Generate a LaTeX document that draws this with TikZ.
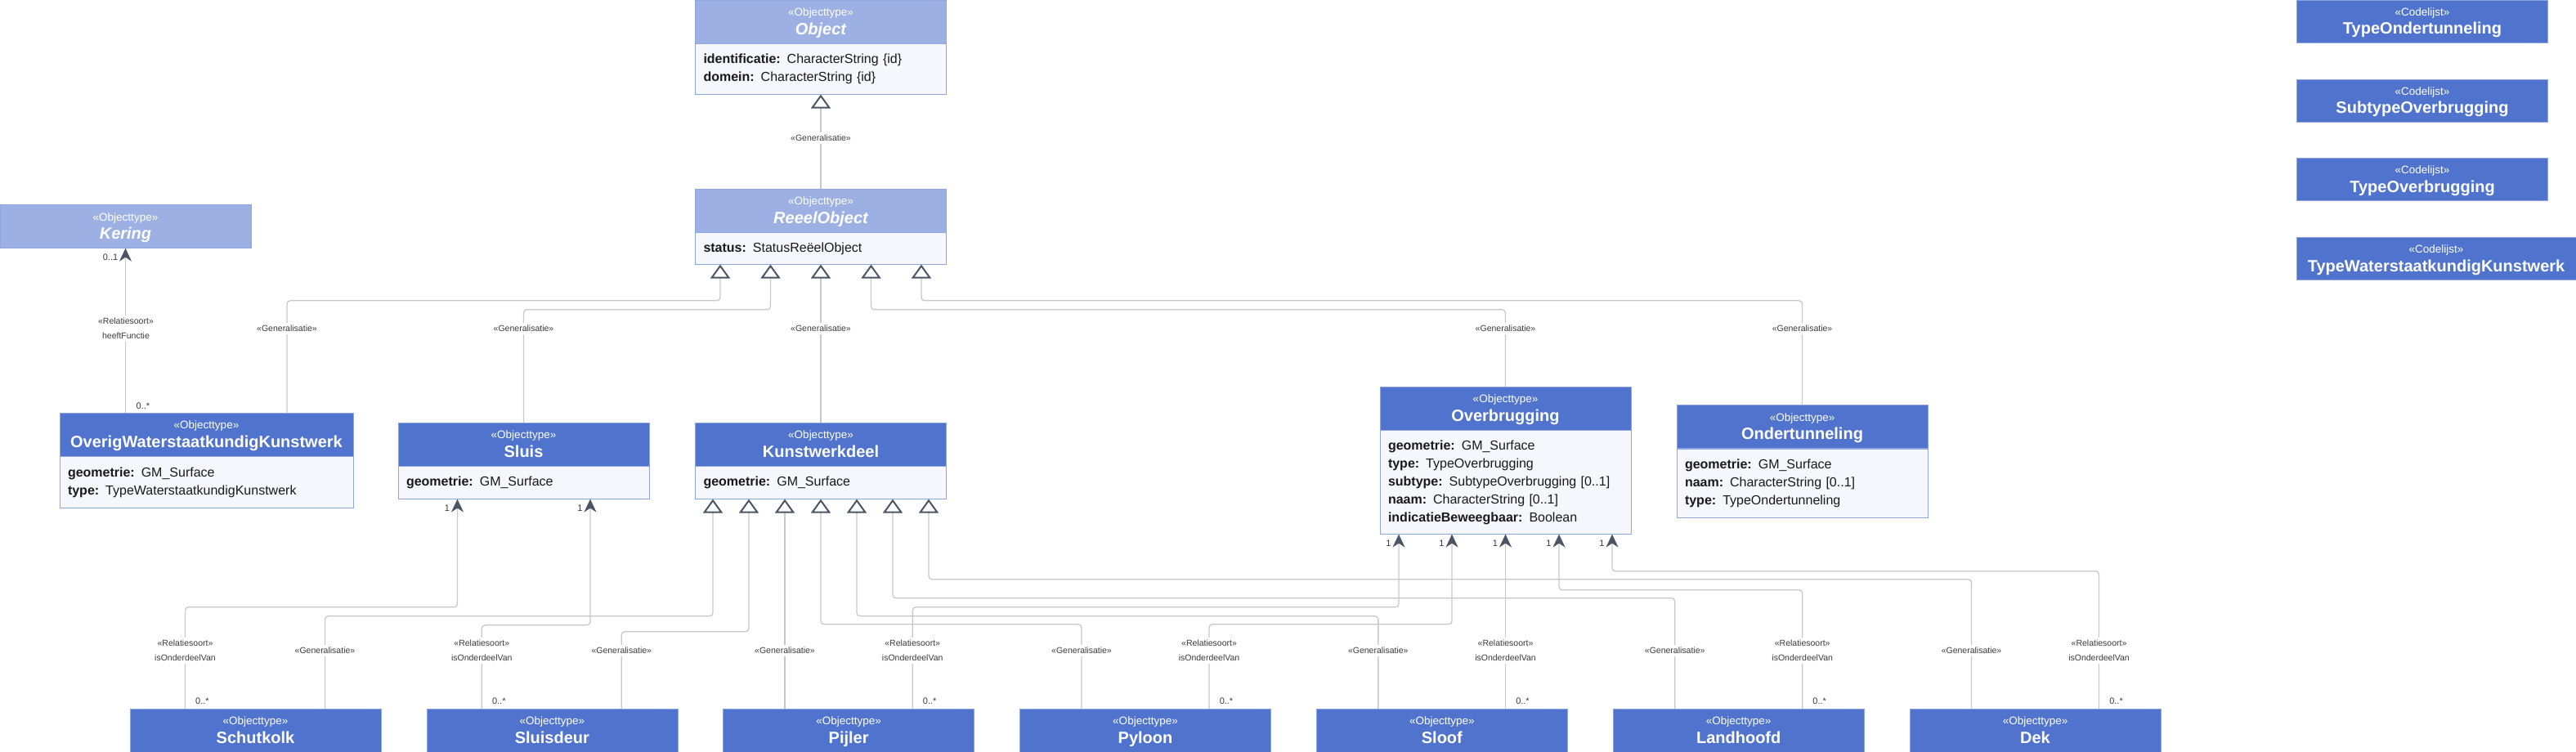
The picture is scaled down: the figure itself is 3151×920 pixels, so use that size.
\documentclass[tikz,border=0pt]{standalone}
\usepackage{fontspec}
\setmainfont{Liberation Sans}
\usetikzlibrary{arrows.meta,positioning}

\definecolor{hdrblue}{HTML}{5073CD}
\definecolor{hdrlight}{HTML}{9DB0E3}
\definecolor{boxedge}{HTML}{8FA5E0}
\definecolor{bodyfill}{HTML}{F5F7FC}
\definecolor{wire}{HTML}{C8C8C8}
\definecolor{tipgray}{HTML}{4A5566}
\definecolor{labeltxt}{HTML}{3A3A3A}

\newcommand{\stereo}[1]{\rule{0pt}{14pt}#1}
\newcommand{\cname}[1]{{\fontsize{20}{22.6}\selectfont\bfseries #1\rule[-5pt]{0pt}{5pt}}}
\newcommand{\aname}[1]{{\fontsize{20}{22.6}\selectfont\bfseries\itshape #1\rule[-5pt]{0pt}{5pt}}}

\begin{document}
\begin{tikzpicture}[x=1pt,y=-1pt,
    hdr/.style={draw=boxedge, fill=hdrblue, text=white, minimum width=307pt,
      minimum height=53pt, inner sep=0pt, align=center,
      font=\fontsize{13.5}{22.6}\selectfont},
    abstr/.style={hdr, fill=hdrlight},
    attrs/.style={draw=boxedge, fill=bodyfill, text width=287pt, inner xsep=10pt,
      inner ysep=0pt, align=left, font=\fontsize{16}{22}\selectfont, text=black!90},
    gen/.style={draw=wire, line width=1.3pt, rounded corners=4pt,
      -{Triangle[fill=white, length=17pt, width=24pt, line width=2pt, color=tipgray]}},
    rel/.style={draw=wire, line width=1.3pt, rounded corners=4pt,
      -{Stealth[length=16pt, width=15pt, inset=5pt, color=tipgray]}},
    lbl/.style={fill=white, font=\fontsize{10.5}{18}\selectfont, text=labeltxt,
      inner xsep=1pt, inner ysep=3pt, align=center},
    mult/.style={font=\fontsize{11}{13}\selectfont, text=labeltxt, inner sep=0pt}]

  \fill[white] (0,0) rectangle (3151,920);
  \useasboundingbox (0,0) rectangle (3151,920);

  \node[abstr] (object) at (1004,26.5) {\stereo{«Objecttype»}\\\aname{Object}};
  \node[attrs, minimum height=62pt, below=0pt of object] (objectb)
    {\textbf{identificatie:} CharacterString \{id\}\\\textbf{domein:} CharacterString \{id\}};

  \node[abstr] (reeel) at (1004,257.5) {\stereo{«Objecttype»}\\\aname{ReeelObject}};
  \node[attrs, minimum height=39pt, below=0pt of reeel] (reeelb)
    {\textbf{status:} StatusReëelObject};

  \node[abstr] (kering) at (153.5,277) {\stereo{«Objecttype»}\\\aname{Kering}};

  \node[hdr, minimum width=359pt] (owk) at (252.5,531.5)
    {\stereo{«Objecttype»}\\\cname{OverigWaterstaatkundigKunstwerk}};
  \node[attrs, text width=339pt, minimum height=63pt, below=0pt of owk] (owkb)
    {\textbf{geometrie:} GM\_Surface\\\textbf{type:} TypeWaterstaatkundigKunstwerk};

  \node[hdr] (sluis) at (640.5,543.5) {\stereo{«Objecttype»}\\\cname{Sluis}};
  \node[attrs, minimum height=40pt, below=0pt of sluis] (sluisb)
    {\textbf{geometrie:} GM\_Surface};

  \node[hdr] (kwd) at (1004,543.5) {\stereo{«Objecttype»}\\\cname{Kunstwerkdeel}};
  \node[attrs, minimum height=40pt, below=0pt of kwd] (kwdb)
    {\textbf{geometrie:} GM\_Surface};

  \node[hdr] (overbr) at (1841.5,499.5) {\stereo{«Objecttype»}\\\cname{Overbrugging}};
  \node[attrs, minimum height=127pt, below=0pt of overbr] (overbrb)
    {\textbf{geometrie:} GM\_Surface\\\textbf{type:} TypeOverbrugging\\
     \textbf{subtype:} SubtypeOverbrugging [0..1]\\\textbf{naam:} CharacterString [0..1]\\
     \textbf{indicatieBeweegbaar:} Boolean};

  \node[hdr] (ondert) at (2204.5,522) {\stereo{«Objecttype»}\\\cname{Ondertunneling}};
  \node[attrs, minimum height=84pt, below=0pt of ondert] (ondertb)
    {\textbf{geometrie:} GM\_Surface\\\textbf{naam:} CharacterString [0..1]\\
     \textbf{type:} TypeOndertunneling};

  \node[hdr] (schutkolk) at (312.5,893.5) {\stereo{«Objecttype»}\\\cname{Schutkolk}};
  \node[hdr] (sluisdeur) at (675.33,893.5) {\stereo{«Objecttype»}\\\cname{Sluisdeur}};
  \node[hdr] (pijler) at (1038.17,893.5) {\stereo{«Objecttype»}\\\cname{Pijler}};
  \node[hdr] (pyloon) at (1401,893.5) {\stereo{«Objecttype»}\\\cname{Pyloon}};
  \node[hdr] (sloof) at (1763.83,893.5) {\stereo{«Objecttype»}\\\cname{Sloof}};
  \node[hdr] (landhoofd) at (2126.67,893.5) {\stereo{«Objecttype»}\\\cname{Landhoofd}};
  \node[hdr] (dek) at (2489.5,893.5) {\stereo{«Objecttype»}\\\cname{Dek}};

  \node[hdr, minimum height=52pt] (typeond) at (2963,26)
    {\stereo{«Codelijst»}\\\cname{TypeOndertunneling}};
  \node[hdr, minimum height=52pt] (subtypeov) at (2963,123)
    {\stereo{«Codelijst»}\\\cname{SubtypeOverbrugging}};
  \node[hdr, minimum height=52pt] (typeov) at (2963,219.5)
    {\stereo{«Codelijst»}\\\cname{TypeOverbrugging}};
  \node[hdr, minimum height=52pt, minimum width=342pt] (typewk) at (2980,316.5)
    {\stereo{«Codelijst»}\\\cname{TypeWaterstaatkundigKunstwerk}};

  \begin{scope}
    \draw[gen] (reeel.north) -- (objectb.south);
    \draw[rel] (owk.north -| kering.south) -- (kering.south);
    \draw[gen] ([xshift=98.5pt]owk.north) -- ++(0,-137) -| ([xshift=-123pt]reeelb.south);
    \draw[gen] (sluis.north) -- ++(0,-138) -| ([xshift=-61.5pt]reeelb.south);
    \draw[gen] (kwd.north) -- (reeelb.south);
    \draw[gen] (overbr.north) -- ++(0,-94) -| ([xshift=61.5pt]reeelb.south);
    \draw[gen] (ondert.north) -- ++(0,-127.5) -| ([xshift=123pt]reeelb.south);

    \draw[rel] ([xshift=-86pt]schutkolk.north) -- ++(0,-124) -| ([xshift=-81pt]sluisb.south);
    \draw[gen] ([xshift=85pt]schutkolk.north) -- ++(0,-113) -| ([xshift=-132pt]kwdb.south);
    \draw[rel] ([xshift=-86pt]sluisdeur.north) -- ++(0,-102) -| ([xshift=81.5pt]sluisb.south);
    \draw[gen] ([xshift=85pt]sluisdeur.north) -- ++(0,-94) -| ([xshift=-88pt]kwdb.south);
    \draw[gen] ([xshift=-44pt]kwdb.south |- pijler.north) -- ([xshift=-44pt]kwdb.south);
    \draw[rel] ([xshift=78pt]pijler.north) -- ++(0,-124) -| ([xshift=-130.5pt]overbrb.south);
    \draw[gen] ([xshift=-78pt]pyloon.north) -- ++(0,-103) -| (kwdb.south);
    \draw[rel] ([xshift=78pt]pyloon.north) -- ++(0,-103) -| ([xshift=-65.5pt]overbrb.south);
    \draw[gen] ([xshift=-78pt]sloof.north) -- ++(0,-113) -| ([xshift=44pt]kwdb.south);
    \draw[rel] (overbrb.south |- sloof.north) -- (overbrb.south);
    \draw[gen] ([xshift=-78pt]landhoofd.north) -- ++(0,-135) -| ([xshift=88pt]kwdb.south);
    \draw[rel] ([xshift=78pt]landhoofd.north) -- ++(0,-145) -| ([xshift=65.5pt]overbrb.south);
    \draw[gen] ([xshift=-78pt]dek.north) -- ++(0,-158) -| ([xshift=132pt]kwdb.south);
    \draw[rel] ([xshift=78pt]dek.north) -- ++(0,-168) -| ([xshift=130.5pt]overbrb.south);
  \end{scope}

  \node[lbl] (globj) at (1004,169) {«Generalisatie»};
  \node[lbl] (rkering) at (154,401.5) {«Relatiesoort»\\heeftFunctie};
  \node[lbl] (gowk) at (351,402) {«Generalisatie»};
  \node[lbl] (gsluis) at (640.5,402) {«Generalisatie»};
  \node[lbl] (gkwd) at (1004,402) {«Generalisatie»};
  \node[lbl] (goverbr) at (1841.5,402) {«Generalisatie»};
  \node[lbl] (gondert) at (2204.5,402) {«Generalisatie»};

  \node[lbl] (rschutkolk) at (226.5,796) {«Relatiesoort»\\isOnderdeelVan};
  \node[lbl] (gschutkolk) at (397.5,796) {«Generalisatie»};
  \node[lbl] (rsluisdeur) at (589.3,796) {«Relatiesoort»\\isOnderdeelVan};
  \node[lbl] (gsluisdeur) at (760.3,796) {«Generalisatie»};
  \node[lbl] (gpijler) at (960,796) {«Generalisatie»};
  \node[lbl] (rpijler) at (1116.2,796) {«Relatiesoort»\\isOnderdeelVan};
  \node[lbl] (gpyloon) at (1323,796) {«Generalisatie»};
  \node[lbl] (rpyloon) at (1479,796) {«Relatiesoort»\\isOnderdeelVan};
  \node[lbl] (gsloof) at (1685.8,796) {«Generalisatie»};
  \node[lbl] (rsloof) at (1841.5,796) {«Relatiesoort»\\isOnderdeelVan};
  \node[lbl] (glandhoofd) at (2048.7,796) {«Generalisatie»};
  \node[lbl] (rlandhoofd) at (2204.7,796) {«Relatiesoort»\\isOnderdeelVan};
  \node[lbl] (gdek) at (2411.5,796) {«Generalisatie»};
  \node[lbl] (rdek) at (2567.5,796) {«Relatiesoort»\\isOnderdeelVan};

  \node[mult] (mkering) at (135,315) {0..1};
  \node[mult] (mowk) at (175,497) {0..*};
  \node[mult] (msluis1) at (547,622) {1};
  \node[mult] (msluis2) at (709.5,622) {1};
  \node[mult] (mob1) at (1698.5,665) {1};
  \node[mult] (mob2) at (1763.5,665) {1};
  \node[mult] (mob3) at (1829,665) {1};
  \node[mult] (mob4) at (1894.5,665) {1};
  \node[mult] (mob5) at (1959.5,665) {1};
  \node[mult] (mschutkolk) at (247.5,858) {0..*};
  \node[mult] (msluisdeur) at (610.3,858) {0..*};
  \node[mult] (mpijler) at (1137.2,858) {0..*};
  \node[mult] (mpyloon) at (1500,858) {0..*};
  \node[mult] (msloof) at (1862.5,858) {0..*};
  \node[mult] (mlandhoofd) at (2225.7,858) {0..*};
  \node[mult] (mdek) at (2588.5,858) {0..*};
\end{tikzpicture}
\end{document}
